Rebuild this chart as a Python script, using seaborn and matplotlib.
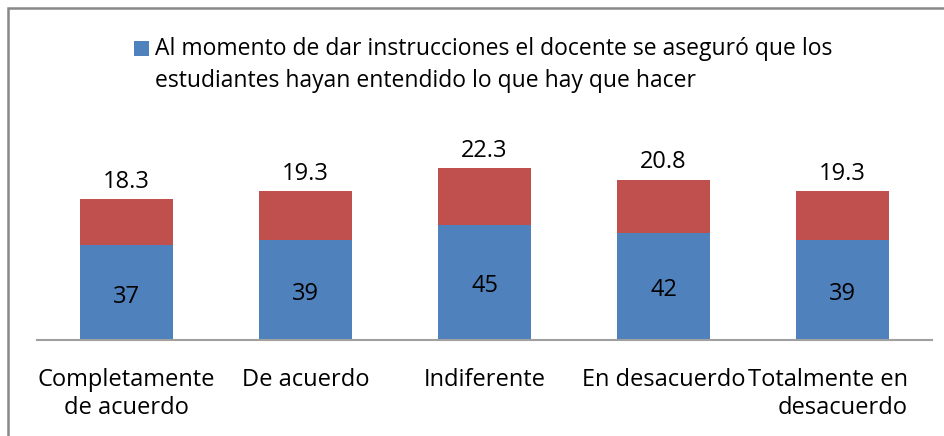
import matplotlib
matplotlib.use("Agg")
import matplotlib.pyplot as plt
import matplotlib.transforms as mtransforms
import seaborn as sns
import pandas as pd
from matplotlib.patches import Rectangle

categories = ["Completamente\nde acuerdo", "De acuerdo", "Indiferente", "En desacuerdo", "Totalmente en\ndesacuerdo"]
blue_vals = [37, 39, 45, 42, 39]
red_vals = [18.3, 19.3, 22.3, 20.8, 19.3]
legend_label = "Al momento de dar instrucciones el docente se aseguró que los\nestudiantes hayan entendido lo que hay que hacer"

sns.set_theme(style="white")
plt.rcParams['font.family'] = ['Open Sans', 'DejaVu Sans']

df = pd.DataFrame({"cat": categories, "blue": blue_vals, "red": red_vals})
df["total"] = df["blue"] + df["red"]

W, H = 945, 436
fig = plt.figure(figsize=(W / 100, H / 100), dpi=100)
ax = fig.add_axes([37 / W, (H - 340) / H, (932 - 37) / W, (340 - 110) / H])

blue = "#4F81BD"
red = "#C0504D"
sns.barplot(data=df, x="cat", y="total", color=red, saturation=1, width=0.514, ax=ax, edgecolor="none")
sns.barplot(data=df, x="cat", y="blue", color=blue, saturation=1, width=0.514, ax=ax, edgecolor="none")

ax.set_ylim(0, 90)
ax.set_xlim(-0.5, len(categories) - 0.5)
for s in ["top", "right", "left"]:
    ax.spines[s].set_visible(False)
ax.spines["bottom"].set_color("#A0A0A0")
ax.spines["bottom"].set_linewidth(1.5)
ax.set_yticks([])
ax.set_xlabel("")
ax.set_ylabel("")
ax.tick_params(axis="x", length=0, pad=20, labelsize=17, colors="black")
for lab in ax.get_xticklabels():
    lab.set_linespacing(1.25)
last = ax.get_xticklabels()[-1]
last.set_horizontalalignment("right")
last.set_multialignment("right")
last.set_transform(last.get_transform() + mtransforms.ScaledTranslation(65 / 100, 0, fig.dpi_scale_trans))

for i, (b, r) in enumerate(zip(blue_vals, red_vals)):
    ax.text(i, b / 2 - 1.5, f"{b:g}", ha="center", va="center", fontsize=17, color="black")
    ax.text(i, b + r + 2.0, f"{r:g}", ha="center", va="bottom", fontsize=17, color="black")

# legend
fig.patches.append(Rectangle((134 / W, 1 - 56 / H), 15 / W, 15 / H, transform=fig.transFigure,
                             facecolor=blue, edgecolor="none"))
fig.text(155 / W, 1 - 37 / H, legend_label, ha="left", va="top", fontsize=16.5,
         color="black", linespacing=1.45)

# outer frame
fig.patches.append(Rectangle((8 / W, -0.05), 1.1, 1 - 8 / H + 0.05, transform=fig.transFigure,
                             facecolor="none", edgecolor="#888888", linewidth=1.8))

fig.savefig("out.png", dpi=100)
